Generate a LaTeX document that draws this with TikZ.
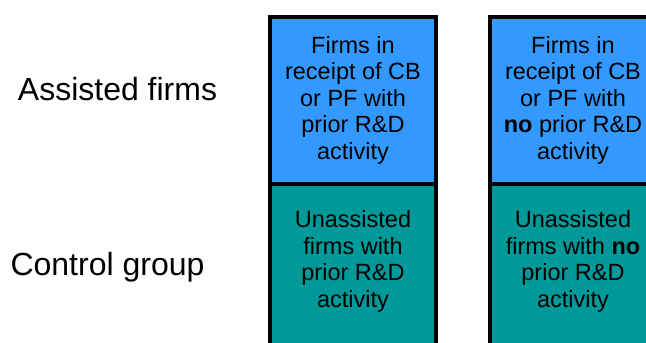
\documentclass[tikz,border=0pt]{standalone}
\usepackage{fontspec}
\setmainfont{Liberation Sans}
\usepackage{xcolor}
\definecolor{asst}{RGB}{51, 153, 255}
\definecolor{ctrl}{RGB}{0, 153, 153}
\tikzset{
  cell/.style={draw=black, line width=4pt, minimum width=166pt, inner sep=0pt},
  celltext/.style={align=center, inner sep=0pt, font=\fontsize{23.5}{26.5}\selectfont},
  rowlabel/.style={anchor=base, inner sep=0pt, font=\fontsize{32}{38}\selectfont}
}
\begin{document}
\begin{tikzpicture}[x=1pt, y=-1pt]
        \useasboundingbox (0, 0) rectangle (646, 343);
        \clip (0, 0) rectangle (646, 343);
        \node[rowlabel] (la) at (117.5, 100) {Assisted firms};
        \node[rowlabel] (lc) at (107.5, 275) {Control group};
        \node[cell, fill=asst, minimum height=167pt] (a1) at (353, 100.5) {};
        \node[cell, fill=asst, minimum height=167pt] (a2) at (573, 100.5) {};
        \node[cell, fill=ctrl, minimum height=180pt] (c1) at (353, 274) {};
        \node[cell, fill=ctrl, minimum height=180pt] (c2) at (573, 274) {};
        \node[celltext] (ta1) at (353, 100.1) {Firms in\\receipt of CB\\or PF with\\prior R\&D\\activity};
        \node[celltext] (ta2) at (573, 100.1) {Firms in\\receipt of CB\\or PF with\\\textbf{no} prior R\&D\\activity};
        \node[celltext] (tc1) at (353, 261.2) {Unassisted\\firms with\\prior R\&D\\activity};
        \node[celltext] (tc2) at (573, 261.2) {Unassisted\\firms with \textbf{no}\\prior R\&D\\activity};
    \end{tikzpicture}
\end{document}
